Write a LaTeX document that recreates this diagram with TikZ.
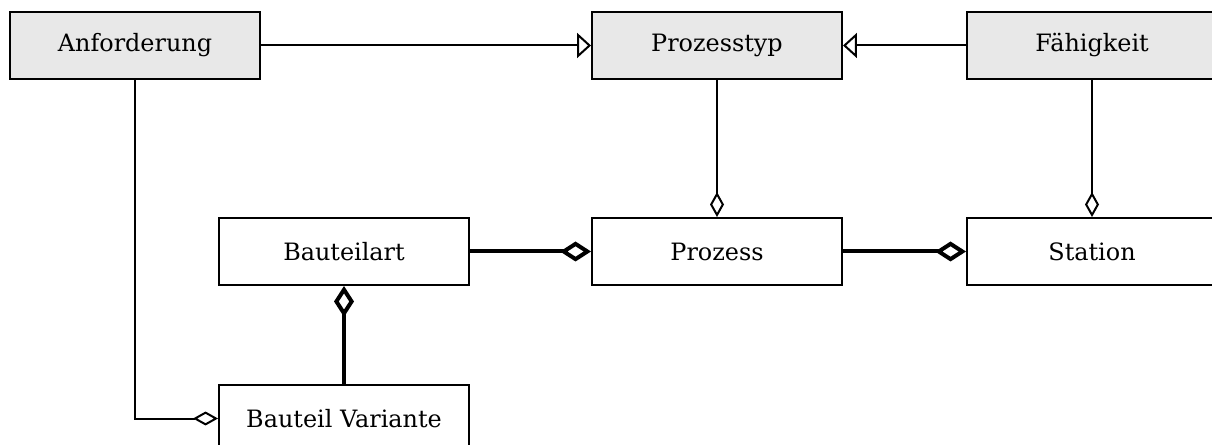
\documentclass[tikz,border=0pt]{standalone}
\usepackage{fontspec}
\setmainfont{DejaVu Serif}
\usetikzlibrary{arrows.meta}

\tikzset{
	klasse/.style={draw, line width=0.04cm, minimum width=5cm, minimum height=1.34cm,
		inner sep=0pt, font=\fontsize{13.6}{16}\selectfont},
	typ/.style={klasse, fill=black!9},
	gen/.style={line width=0.04cm, -{Triangle[open, length=0.28cm, width=0.5cm]}},
	agg/.style={line width=0.04cm, -{Diamond[open, length=0.5cm, width=0.28cm]}},
	kompo/.style={line width=0.08cm, -{Diamond[open, length=0.62cm, width=0.4cm]}}
}

\begin{document}
\begin{tikzpicture}[x=0.02cm, y=-0.02cm]
		\useasboundingbox (0,0) rectangle (1212,445);
		\clip (0,0) rectangle (1212,445);
		% Typen oben
		\node[typ] (anf) at (135,45.5) {Anforderung};
		\node[typ] (ptyp) at (717,45.5) {Prozesstyp};
		\node[typ] (faeh) at (1092,45.5) {Fähigkeit};
		% Instanzen
		\node[klasse] (bart) at (344,251.5) {Bauteilart};
		\node[klasse] (proz) at (717,251.5) {Prozess};
		\node[klasse] (stat) at (1092,251.5) {Station};
		\node[klasse] (bvar) at (344,418.5) {Bauteil Variante};
		% Beziehungen
		\draw[gen] (anf) -- (ptyp);
		\draw[gen] (faeh) -- (ptyp);
		\draw[agg] (ptyp) -- (proz);
		\draw[agg] (faeh) -- (stat);
		\draw[kompo] (bart) -- (proz);
		\draw[kompo] (proz) -- (stat);
		\draw[kompo] (bvar) -- (bart);
		\draw[agg] (anf) |- (bvar);
	\end{tikzpicture}
\end{document}
